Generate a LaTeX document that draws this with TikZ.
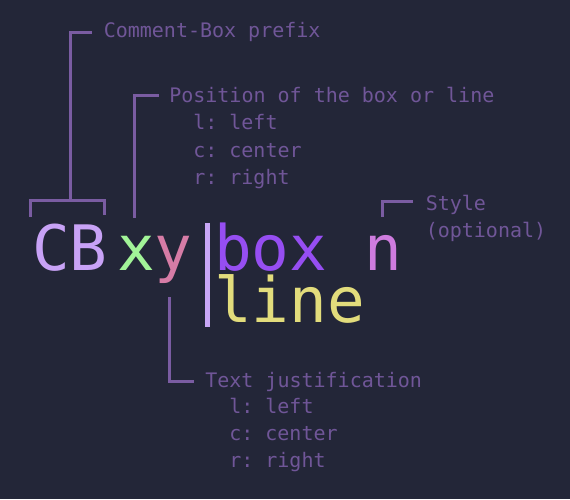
\documentclass[tikz,border=0pt]{standalone}
\usepackage{fontspec}
\setmonofont{DejaVu Sans Mono}
\definecolor{bgcol}{RGB}{35,38,56}
\definecolor{notecol}{RGB}{112,86,152}
\definecolor{leadcol}{RGB}{122,92,162}
\definecolor{cbcol}{RGB}{200,162,246}
\definecolor{xcol}{RGB}{162,244,152}
\definecolor{ycol}{RGB}{214,124,166}
\definecolor{barcol}{RGB}{200,166,246}
\definecolor{boxcol}{RGB}{150,78,242}
\definecolor{ncol}{RGB}{206,124,222}
\definecolor{linecol}{RGB}{226,220,124}
\begin{document}
\begin{tikzpicture}[x=0.75pt,y=-0.75pt,
  note/.style={anchor=base west,inner sep=0pt,text=notecol,font=\ttfamily\fontsize{15}{18}\selectfont},
  big/.style={anchor=base west,inner sep=0pt,font=\ttfamily\fontsize{47}{56}\selectfont},
  lead/.style={draw=leadcol,line width=2.25pt}]
\fill[bgcol] (0,0) rectangle (570,499);
\useasboundingbox (0,0) rectangle (570,499);
% the comment box string
\node[big,text=cbcol] (cb) at (32,270) {CB};
\node[big,text=xcol] (xx) at (117,270) {x};
\node[big,text=ycol] (yy) at (154.5,270) {y};
\coordinate (bartop) at (207.5,223);
\coordinate (barbot) at (207.5,327);
\draw[barcol,line width=3.75pt] (bartop) -- (barbot);
\node[big,text=boxcol] (box) at (214,270) {box};
\node[big,text=ncol] (nn) at (364.5,270) {n};
\node[big,text=linecol] (line) at (214,322) {line};
% notes
\node[note] (prefix) at (103.5,38) {Comment-Box prefix};
\node[note] (pos) at (169,103) {Position of the box or line};
\node[note] (posl) at (193,130) {l: left};
\node[note] (posc) at (193,157) {c: center};
\node[note] (posr) at (193,184) {r: right};
\node[note] (just) at (205,387) {Text justification};
\node[note] (justl) at (229,413) {l: left};
\node[note] (justc) at (229,440) {c: center};
\node[note] (justr) at (229,467) {r: right};
\node[note] (style) at (425.5,210) {Style};
\node[note] (opt) at (425.5,237) {(optional)};
% leaders
\coordinate (cbleft) at (30.5,216.5);
\coordinate (cbright) at (104.5,215);
\coordinate (cbtop) at (70,200);
\draw[lead] (cbleft) -- (cbleft |- cbtop) -- (cbright |- cbtop) -- (cbright);
\draw[lead,shorten >=8.5pt] (cbtop) |- (prefix.west);
\coordinate (posfoot) at (134,218);
\draw[lead,shorten >=7.5pt] (posfoot) |- (pos.west);
\coordinate (justfoot) at (169,297);
\draw[lead,shorten >=8.25pt] (justfoot) |- (just.west);
\coordinate (stylefoot) at (382,217);
\draw[lead,shorten >=9.5pt] (stylefoot) |- ([yshift=2pt]style.west);
\end{tikzpicture}
\end{document}
